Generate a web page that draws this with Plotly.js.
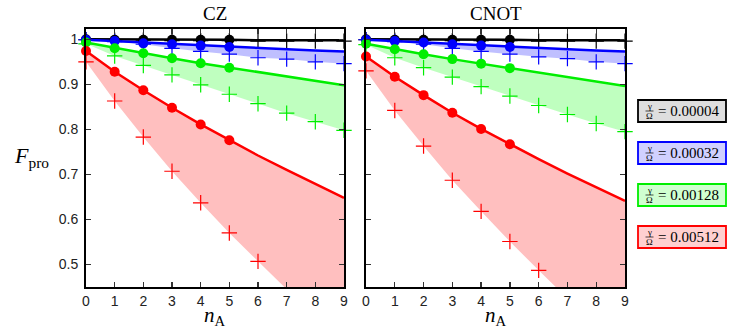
<!DOCTYPE html>
<html>
<head>
<meta charset="utf-8">
<script src="https://cdn.plot.ly/plotly-3.0.1.min.js"></script>
<style>html,body{margin:0;padding:0;background:#fff;}#chart{width:737px;height:329px;}</style>
</head>
<body>
<div id="chart"></div>
<script>
// ---- data ----
const nA = [0,1,2,3,4,5,6,7,8,9];
const nDots = [0,1,2,3,4,5];
const panelTitles = ['CZ','CNOT'];
const gammaLabels = ['0.00004','0.00032','0.00128','0.00512'];
const yTickVals = [0.5,0.6,0.7,0.8,0.9,1];

// CZ
const czBlackFit  = [1.000,1.000,0.999,0.999,0.999,0.999,0.998,0.998,0.998,0.998];
const czBlackDots = [1.000,0.999,0.999,0.999,0.999,0.999];
const czBlackPlus = [0.999,0.998,0.998,0.997,0.997,0.997,0.996,0.996,0.996,0.996];
const czBlueFit   = [0.999,0.996,0.992,0.989,0.986,0.983,0.980,0.977,0.975,0.973];
const czBlueDots  = [0.999,0.996,0.991,0.989,0.986,0.983];
const czBluePlus  = [0.999,0.995,0.989,0.980,0.973,0.967,0.959,0.956,0.950,0.946];
const czGreenFit  = [0.993,0.981,0.969,0.958,0.947,0.937,0.927,0.917,0.907,0.898];
const czGreenDots = [0.993,0.980,0.969,0.958,0.947,0.937];
const czGreenPlus = [0.990,0.963,0.942,0.921,0.899,0.878,0.857,0.836,0.817,0.798];
const czRedFit    = [0.974,0.928,0.887,0.848,0.811,0.776,0.742,0.710,0.679,0.648];
const czRedDots   = [0.974,0.928,0.887,0.848,0.811,0.776];
const czRedPlus   = [0.950,0.863,0.783,0.707,0.637,0.570,0.507,null,null,null];
const czRedLow    = [0.950,0.863,0.783,0.707,0.637,0.570,0.507,0.445,0.390,0.335];

// CNOT
const cnBlackFit  = [1.000,1.000,0.999,0.999,0.999,0.999,0.998,0.998,0.998,0.998];
const cnBlackDots = [1.000,0.999,0.999,0.999,0.999,0.999];
const cnBlackPlus = [0.999,0.998,0.998,0.997,0.997,0.997,0.996,0.996,0.996,0.996];
const cnBlueFit   = [0.999,0.996,0.993,0.989,0.986,0.983,0.980,0.977,0.975,0.973];
const cnBlueDots  = [0.999,0.996,0.993,0.989,0.986,0.983];
const cnBluePlus  = [0.999,0.995,0.989,0.980,0.973,0.967,0.961,0.957,0.950,0.946];
const cnGreenFit  = [0.990,0.978,0.967,0.956,0.946,0.936,0.926,0.916,0.906,0.896];
const cnGreenDots = [0.990,0.978,0.967,0.956,0.946,0.936];
const cnGreenPlus = [0.988,0.959,0.937,0.916,0.895,0.874,0.853,0.833,0.813,0.795];
const cnRedFit    = [0.962,0.917,0.876,0.837,0.801,0.767,0.734,0.702,0.671,0.641];
const cnRedDots   = [0.962,0.917,0.876,0.837,0.801,0.767];
const cnRedPlus   = [0.930,0.842,0.763,0.687,0.618,0.551,0.487,null,null,null];
const cnRedLow    = [0.930,0.842,0.763,0.687,0.618,0.551,0.487,0.422,0.360,0.300];

// ---- styles ----
const W = 737, H = 329;
const px = v => v / W;
const py = v => 1 - v / H;
const colors = ['#000000','#0000ff','#00ee00','#ff0000'];
const fills = ['rgba(0,0,0,0.15)','rgba(0,0,255,0.25)','rgba(0,255,0,0.25)','rgba(255,0,0,0.25)'];
const boxFills = ['#dedede','#d0d0ff','#d0ffd0','#ffd0d0'];

const panels = [
  {xa:'x', ya:'y', series:[
    {fit:czBlackFit, dots:czBlackDots, plus:czBlackPlus, low:czBlackPlus},
    {fit:czBlueFit, dots:czBlueDots, plus:czBluePlus, low:czBluePlus},
    {fit:czGreenFit, dots:czGreenDots, plus:czGreenPlus, low:czGreenPlus},
    {fit:czRedFit, dots:czRedDots, plus:czRedPlus, low:czRedLow}]},
  {xa:'x2', ya:'y2', series:[
    {fit:cnBlackFit, dots:cnBlackDots, plus:cnBlackPlus, low:cnBlackPlus},
    {fit:cnBlueFit, dots:cnBlueDots, plus:cnBluePlus, low:cnBluePlus},
    {fit:cnGreenFit, dots:cnGreenDots, plus:cnGreenPlus, low:cnGreenPlus},
    {fit:cnRedFit, dots:cnRedDots, plus:cnRedPlus, low:cnRedLow}]}
];

const traces = [];
panels.forEach(p => {
  p.series.forEach((s, i) => {
    traces.push({x:nA, y:s.low, xaxis:p.xa, yaxis:p.ya, mode:'lines', line:{width:0, color:colors[i]}, hoverinfo:'skip', showlegend:false});
    traces.push({x:nA, y:s.fit, xaxis:p.xa, yaxis:p.ya, mode:'lines', fill:'tonexty', fillcolor:fills[i], line:{width:0, color:colors[i]}, hoverinfo:'skip', showlegend:false});
  });
  p.series.forEach((s, i) => {
    traces.push({x:nA, y:s.fit, xaxis:p.xa, yaxis:p.ya, mode:'lines', line:{width:2.5, color:colors[i]}, showlegend:false});
    traces.push({x:nA, y:s.plus, xaxis:p.xa, yaxis:p.ya, mode:'markers', cliponaxis:false,
      marker:{symbol:'cross-thin', size:11, line:{width:1.2, color:colors[i]}}, showlegend:false});
  });
  p.series.forEach((s, i) => {
    traces.push({x:nDots, y:s.dots, xaxis:p.xa, yaxis:p.ya, mode:'markers', cliponaxis:false,
      marker:{symbol:'circle', size:10, color:colors[i]}, showlegend:false});
  });
});

const tickFont = {family:"'Liberation Sans', Arial, sans-serif", size:14, color:'#222'};
const xBase = {range:[0,9], tickvals:nA, ticks:'inside', ticklen:5, tickwidth:1.3, tickcolor:'#333',
  showline:true, linewidth:2, linecolor:'#000', mirror:'ticks', showgrid:false, zeroline:false,
  tickfont:tickFont, fixedrange:true};
const yBase = {range:[0.45,1.024], tickvals:yTickVals, ticks:'inside', ticklen:5, tickwidth:1.3, tickcolor:'#333',
  showline:true, linewidth:2, linecolor:'#000', mirror:'ticks', showgrid:false, zeroline:false,
  tickfont:tickFont, fixedrange:true};

const yDom = [1 - 287/H, 1 - 28.5/H];
const layout = {
  width:W, height:H, margin:{l:0,r:0,t:0,b:0}, paper_bgcolor:'#fff', plot_bgcolor:'#fff',
  showlegend:false,
  xaxis:Object.assign({}, xBase, {domain:[px(86), px(344)], anchor:'y'}),
  yaxis:Object.assign({}, yBase, {domain:yDom, anchor:'x', ticklabelstandoff:3}),
  xaxis2:Object.assign({}, xBase, {domain:[px(366), px(625)], anchor:'y2'}),
  yaxis2:Object.assign({}, yBase, {domain:yDom, anchor:'x2', showticklabels:false}),
  annotations:[], shapes:[]
};

const serif = "'Liberation Serif', 'Times New Roman', serif";
// panel titles
[[215,panelTitles[0]],[495.5,panelTitles[1]]].forEach(([cx,t]) => {
  layout.annotations.push({xref:'paper', yref:'paper', x:px(cx), y:py(14), text:t, showarrow:false,
    xanchor:'center', yanchor:'middle', font:{family:serif, size:19, color:'#000'}});
});
// x axis labels
[215,495.5].forEach(cx => {
  layout.annotations.push({xref:'paper', yref:'paper', x:px(cx), y:py(316), text:'<i>n</i><sub>A</sub>', showarrow:false,
    xanchor:'center', yanchor:'middle', font:{family:serif, size:21, color:'#000'}});
});
// y axis label
layout.annotations.push({xref:'paper', yref:'paper', x:px(32), y:py(157), text:'<i>F</i><sub>pro</sub>', showarrow:false,
  xanchor:'center', yanchor:'middle', font:{family:serif, size:22, color:'#000'}});

// legend boxes
const boxTops = [100, 142, 184, 226];
gammaLabels.forEach((g, i) => {
  const t = boxTops[i], b = t + 22, c = t + 11;
  layout.shapes.push({type:'rect', xref:'paper', yref:'paper', x0:px(638), x1:px(726), y0:py(b), y1:py(t),
    fillcolor:boxFills[i], line:{color:colors[i], width:1.8}});
  layout.shapes.push({type:'line', xref:'paper', yref:'paper', x0:px(645.5), x1:px(653.5), y0:py(c), y1:py(c),
    line:{color:'#000', width:0.7}});
  layout.annotations.push({xref:'paper', yref:'paper', x:px(649.5), y:py(c-4.6), text:'γ', showarrow:false,
    xanchor:'center', yanchor:'middle', borderpad:0, font:{family:serif, size:9, color:'#000'}});
  layout.annotations.push({xref:'paper', yref:'paper', x:px(649.5), y:py(c+5.4), text:'Ω', showarrow:false,
    xanchor:'center', yanchor:'middle', borderpad:0, font:{family:serif, size:9, color:'#000'}});
  layout.annotations.push({xref:'paper', yref:'paper', x:px(656), y:py(c), text:'= ' + g, showarrow:false,
    xanchor:'left', yanchor:'middle', font:{family:serif, size:15, color:'#000'}});
});

Plotly.newPlot('chart', traces, layout, {displayModeBar:false, staticPlot:true});
</script>
</body>
</html>
